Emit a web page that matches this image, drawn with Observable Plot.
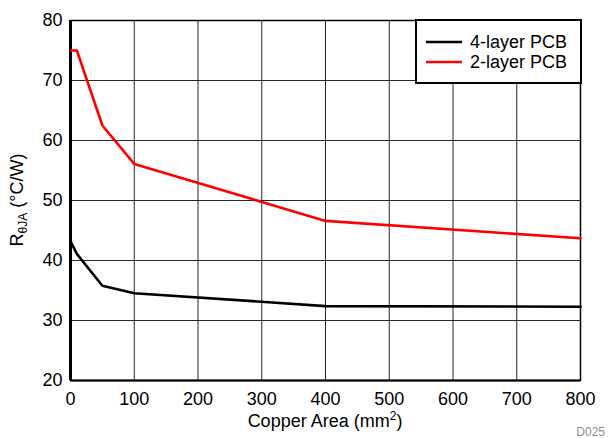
<!DOCTYPE html>
<html>
<head>
<meta charset="utf-8">
<script src="https://cdn.jsdelivr.net/npm/d3@7"></script>
<script src="https://cdn.jsdelivr.net/npm/@observablehq/plot@0.6"></script>
<style>
  html, body { margin: 0; padding: 0; background: #fff; }
  #chart { width: 608px; height: 438px; }
</style>
</head>
<body>
<div id="chart"></div>
<script>
// Data
const area = [1, 10, 50, 100, 400, 800];
const fourLayer = [43, 41.1, 35.8, 34.55, 32.4, 32.3];
const twoLayer = [75, 75, 62.5, 56.1, 46.6, 43.7];
const seriesNames = ["4-layer PCB", "2-layer PCB"];
const seriesColors = ["#000000", "#ff0000"];
const xTicks = [0, 100, 200, 300, 400, 500, 600, 700, 800];
const yTicks = [20, 30, 40, 50, 60, 70, 80];

const rows = [];
area.forEach((a, i) => rows.push({area: a, r: fourLayer[i], s: seriesNames[0]}));
area.forEach((a, i) => rows.push({area: a, r: twoLayer[i], s: seriesNames[1]}));

const font = "'Liberation Sans', Arial, Helvetica, sans-serif";

const chart = Plot.plot({
  width: 608,
  height: 438,
  marginLeft: 70,
  marginRight: 28,
  marginTop: 20,
  marginBottom: 58,
  style: {fontFamily: font, fontSize: "18px", color: "#000", background: "#fff"},
  x: {domain: [0, 800], label: null},
  y: {domain: [20, 80], label: null},
  color: {domain: seriesNames, range: seriesColors},
  marks: [
    Plot.gridX(xTicks, {stroke: "#000", strokeOpacity: 0.85, strokeWidth: 1}),
    Plot.gridY(yTicks, {stroke: "#000", strokeOpacity: 0.85, strokeWidth: 1}),
    Plot.frame({stroke: "#000", strokeWidth: 1.5}),
    Plot.ruleX([0], {stroke: "#000", strokeWidth: 3}),
    Plot.ruleY([20], {stroke: "#000", strokeWidth: 2}),
    Plot.line(rows, {x: "area", y: "r", z: "s", stroke: "s", strokeWidth: 2.6}),
    Plot.axisX(xTicks, {tickSize: 0, tickPadding: 12, fontSize: 18, label: null}),
    Plot.axisY(yTicks, {tickSize: 0, tickPadding: 8, fontSize: 18, label: null})
  ]
});
document.getElementById("chart").appendChild(chart);

const svg = d3.select(chart);

// Legend
const lg = svg.append("g").attr("text-anchor", "start");
lg.append("rect").attr("x", 416).attr("y", 20).attr("width", 165).attr("height", 63)
  .attr("fill", "#fff").attr("stroke", "#000").attr("stroke-width", 2);
seriesNames.forEach((n, i) => {
  const y = 42 + i * 20;
  lg.append("line").attr("x1", 426).attr("x2", 462).attr("y1", y).attr("y2", y)
    .attr("stroke", seriesColors[i]).attr("stroke-width", 2.6);
  lg.append("text").attr("x", 470).attr("y", y).attr("dy", "0.35em")
    .attr("text-anchor", "start")
    .attr("font-family", font).attr("font-size", 18).attr("fill", "#000").text(n);
});

// X axis label
const xl = svg.append("text").attr("x", 325).attr("y", 427).attr("text-anchor", "middle")
  .attr("font-family", font).attr("font-size", 18).attr("fill", "#000");
xl.append("tspan").text("Copper Area (mm");
xl.append("tspan").attr("dy", -7).attr("font-size", 12).text("2");
xl.append("tspan").attr("dy", 7).text(")");

// Y axis label
const yl = svg.append("text").attr("transform", "translate(23,200) rotate(-90)")
  .attr("text-anchor", "middle").attr("font-family", font).attr("font-size", 18).attr("fill", "#000");
yl.append("tspan").text("R");
yl.append("tspan").attr("dy", 4).attr("font-size", 12).text("θJA");
yl.append("tspan").attr("dy", -4).text(" (°C/W)");

// Figure code
svg.append("text").attr("x", 605).attr("y", 436).attr("text-anchor", "end")
  .attr("font-family", font).attr("font-size", 12).attr("fill", "#8c8c8c").text("D025");
</script>
</body>
</html>
